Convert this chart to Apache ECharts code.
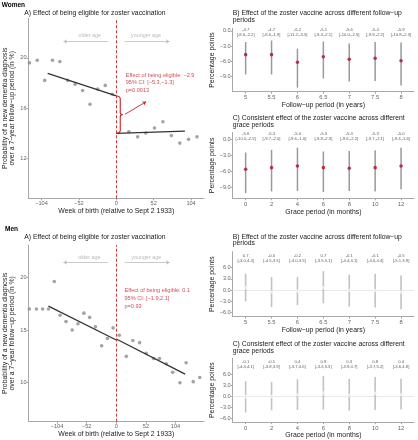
<!DOCTYPE html>
<html><head><meta charset="utf-8">
<script src="https://cdn.jsdelivr.net/npm/echarts@6/dist/echarts.min.js"></script>
<style>html,body{margin:0;padding:0;background:#fff}#c{width:418px;height:440px}</style>
</head><body><div id="c"></div>
<script>
// ---------------- data ----------------
const weeksWomen = [-120.7,-109.9,-99.5,-88.7,-78.4,-67.6,-57.2,-46.8,-36.5,-25.7,-15.3,-5.4,17.6,29.7,41.1,53.2,64.9,76.6,88.4,100.5,112.2];
const probWomen  = [19.6,19.8,18.2,19.8,19.7,18.2,17.9,17.4,16.3,17.5,17.8,17.1,14.1,13.7,14.0,14.4,14.9,13.8,13.2,13.5,13.7];
const fitWomenLeft  = [[-95.4,18.75],[0,16.96]];
const fitWomenRight = [[0,13.98],[95.5,14.16]];
const effectWomen = [-2.9,-5.3,-1.3];
const pWomen = '0.0013';

const weeksMen = [-152.6,-140.2,-129.2,-119,-108.7,-98.5,-88.2,-77.4,-67.2,-56.9,-46.7,-36.5,-25.6,-15.4,-5.6,5.2,17.7,29.1,41.0,52.5,65.6,75.8,87.8,99.1,111.7,122.6,135.1,146.5];
const probMen  = [17.0,17.0,17.0,17.0,19.6,16.4,15.8,15.0,15.6,16.6,16.2,15.3,13.5,14.2,15.2,14.5,12.5,14.0,13.8,12.8,12.3,12.3,11.8,11.0,10.0,11.9,10.1,10.5];
const fitMenLeft  = [[-119,17.27],[0,14.05]];
const fitMenRight = [[0,14.15],[120.9,10.82]];
const effectMen = [0.1,-1.9,2.1];
const pMen = '0.93';

const followUpYears = ['5','5.5','6','6.5','7','7.5','8'];
const gracePeriods  = ['0','2','4','6','8','10','12'];

const womenFollowEst = [-4.7,-4.7,-6.2,-5.1,-5.6,-5.4,-5.9];
const womenFollowLo  = [-8.6,-8.6,-11.2,-9.4,-10.0,-9.9,-10.8];
const womenFollowHi  = [-2.2,-1.9,-3.5,-2.1,-2.5,-2.2,-2.3];
const womenGraceEst  = [-5.6,-5.3,-5.0,-5.3,-5.4,-5.3,-5.0];
const womenGraceLo   = [-10.0,-9.7,-9.6,-9.8,-9.6,-9.7,-9.3];
const womenGraceHi   = [-2.5,-2.0,-1.6,-2.3,-2.2,-2.1,-1.6];

const menFollowEst = [0.7,-0.5,-0.2,0.7,-0.1,-0.1,-0.5];
const menFollowLo  = [-3.0,-4.5,-4.0,-3.5,-4.4,-4.6,-5.1];
const menFollowHi  = [4.4,3.5,3.5,5.1,4.1,4.4,3.9];
const menGraceEst  = [-0.1,-0.1,0.4,0.9,0.3,0.8,0.4];
const menGraceLo   = [-4.4,-3.8,-3.7,-3.6,-3.9,-3.7,-3.6];
const menGraceHi   = [4.1,3.9,4.6,5.5,4.7,5.2,4.8];

const weekTicks      = [-104,-52,0,52,104];
const probTicksWomen = [12,16,20];
const probTicksMen   = [10,15,20];
const ppTicksWomen   = [-9,-6,-3,0];
const ppTicksMen     = [-6,-3,0,3,6];

// ---------------- styling helpers ----------------
const FONT = 'Liberation Sans, Arial, Helvetica, sans-serif';
const AX = '#a8a8a8';
const RED = '#c8202a';
const PT_RED = '#b0102a';
const minus = v => (v < 0 ? '\u2212' : '') + Math.abs(v);
const minus1 = v => (v < 0 ? '\u2212' : '') + Math.abs(v).toFixed(1);
const hy1 = v => v.toFixed(1);

function valAxis(gi, min, max, ticks, fmt, extra) {
  return Object.assign({
    type: 'value', gridIndex: gi, min: min, max: max,
    splitLine: {show: false},
    axisLine: {show: true, onZero: false, lineStyle: {color: AX, width: 1}},
    axisTick: {show: true, length: 2, lineStyle: {color: AX}, customValues: ticks},
    axisLabel: {customValues: ticks, formatter: fmt, fontSize: 5.6, color: '#666', margin: 2, fontFamily: FONT}
  }, extra || {});
}
function catAxis(gi, cats, name) {
  return {
    type: 'category', gridIndex: gi, data: cats, boundaryGap: true,
    axisLine: {show: true, onZero: false, lineStyle: {color: AX, width: 1}},
    axisTick: {show: true, alignWithLabel: true, length: 2, lineStyle: {color: AX}},
    axisLabel: {fontSize: 5.8, color: '#666', margin: 3, fontFamily: FONT, interval: 0},
    name: name, nameLocation: 'middle', nameGap: 8,
    nameTextStyle: {fontSize: 6.9, color: '#1a1a1a', fontFamily: FONT}
  };
}
const yNameLeft = 'Probability of a new dementia diagnosis\nover a 7\u2212year follow\u2212up period (in %)';
const leftYName = {name: yNameLeft, nameLocation: 'middle', nameGap: 8,
  nameTextStyle: {fontSize: 6.9, color: '#1a1a1a', fontFamily: FONT, lineHeight: 7.7}};
const leftXName = {name: 'Week of birth (relative to Sept 2 1933)', nameLocation: 'middle', nameGap: 7,
  nameTextStyle: {fontSize: 6.9, color: '#1a1a1a', fontFamily: FONT}};
const rightYName = {name: 'Percentage points', nameLocation: 'middle', nameGap: 13,
  nameTextStyle: {fontSize: 6.9, color: '#1a1a1a', fontFamily: FONT}};

// ---------------- series builders ----------------
function leftSeries(gi, weeks, probs, fitL, fitR) {
  return [
    {type: 'scatter', xAxisIndex: gi, yAxisIndex: gi, symbol: 'circle', symbolSize: 3.6,
     itemStyle: {color: '#8c8c8c'}, data: weeks.map((w, i) => [w, probs[i]]), z: 3,
     markLine: {silent: true, symbol: 'none', label: {show: false},
       lineStyle: {color: '#d43535', type: [3, 2], width: 1}, data: [{xAxis: 0}]}},
    {type: 'line', xAxisIndex: gi, yAxisIndex: gi, showSymbol: false, data: fitL,
     lineStyle: {color: '#333', width: 1.3}, z: 4},
    {type: 'line', xAxisIndex: gi, yAxisIndex: gi, showSymbol: false, data: fitR,
     lineStyle: {color: '#333', width: 1.3}, z: 4}
  ];
}
function ageArrows(gi, olderPts, youngerPts, textY, olderX, youngerX) {
  return [
    {type: 'lines', coordinateSystem: 'cartesian2d', xAxisIndex: gi, yAxisIndex: gi, silent: true,
     symbol: ['none', 'arrow'], symbolSize: [0, 3.5], lineStyle: {color: '#bdbdbd', width: 0.8, opacity: 1},
     data: [{coords: olderPts}, {coords: youngerPts}]},
    {type: 'scatter', xAxisIndex: gi, yAxisIndex: gi, symbolSize: 0, silent: true,
     data: [{value: [olderX, textY], name: 'older age'}, {value: [youngerX, textY], name: 'younger age'}],
     label: {show: true, position: 'inside', formatter: p => p.name, fontSize: 5.4, color: '#aaaaaa', fontFamily: FONT}}
  ];
}
function effectText(gi, x, y, eff, p) {
  const txt = 'Effect of being eligible: ' + minus(eff[0]) + '\n95% CI: [' + minus(eff[1]) + ',' + minus(eff[2]) + ']\np=' + p;
  return {type: 'scatter', xAxisIndex: gi, yAxisIndex: gi, symbolSize: 0, silent: true, data: [[x, y]],
    label: {show: true, position: 'right', distance: 0, formatter: () => txt, fontSize: 5.6,
      lineHeight: 7.8, color: RED, fontFamily: FONT, align: 'left'}};
}
function forest(gi, cats, est, lo, hi, barColor, barW, ptColor, labelY, zeroLine) {
  const out = [
    {type: 'custom', xAxisIndex: gi, yAxisIndex: gi, z: 2, silent: true,
     data: cats.map((c, i) => [i, lo[i], hi[i]]),
     renderItem: (params, api) => {
       const a = api.coord([api.value(0), api.value(1)]);
       const b = api.coord([api.value(0), api.value(2)]);
       return {type: 'line', shape: {x1: a[0], y1: a[1], x2: b[0], y2: b[1]},
         style: {stroke: barColor, lineWidth: barW}};
     },
     markLine: zeroLine ? {silent: true, symbol: 'none', label: {show: false}, z: 1,
       lineStyle: {color: '#e9e9e9', type: 'solid', width: 1.2}, data: [{yAxis: 0}]} : undefined},
    {type: 'scatter', xAxisIndex: gi, yAxisIndex: gi, z: 3, symbol: 'circle', symbolSize: 3.6,
     itemStyle: {color: ptColor}, data: est.map((v, i) => [i, v])},
    {type: 'scatter', xAxisIndex: gi, yAxisIndex: gi, z: 3, symbolSize: 0, silent: true,
     data: cats.map((c, i) => [i, labelY]),
     label: {show: true, position: 'inside', fontSize: 4.2, lineHeight: 5, color: '#333', fontFamily: FONT,
       formatter: p => hy1(est[p.dataIndex]) + '\n[' + hy1(lo[p.dataIndex]) + ',' + hy1(hi[p.dataIndex]) + ']'}}
  ];
  return out;
}
function brace(gi, fitL, fitR) {
  return {type: 'custom', xAxisIndex: gi, yAxisIndex: gi, silent: true, z: 5,
    data: [[fitL[1][0], fitL[1][1], fitR[0][1]]],
    renderItem: (params, api) => {
      const t = api.coord([api.value(0), api.value(1)]);
      const b = api.coord([api.value(0), api.value(2)]);
      const x = t[0], y1 = t[1], y2 = b[1], m = (y1 + y2) / 2, w = 4;
      const d = 'M' + x + ',' + y1 + ' Q' + (x + w) + ',' + y1 + ' ' + (x + w) + ',' + (y1 + 3) +
        ' L' + (x + w) + ',' + (m - 2) + ' Q' + (x + w) + ',' + m + ' ' + (x + w + 2.5) + ',' + m +
        ' Q' + (x + w) + ',' + m + ' ' + (x + w) + ',' + (m + 2) +
        ' L' + (x + w) + ',' + (y2 - 3) + ' Q' + (x + w) + ',' + y2 + ' ' + x + ',' + y2;
      return {type: 'path', shape: {pathData: d}, style: {stroke: RED, fill: null, lineWidth: 1.1}};
    }};
}

// ---------------- option ----------------
const grids = [
  {left: 24.3, top: 18.3, width: 179.7, height: 180},
  {left: 232.7, top: 28.3, width: 181.3, height: 63.4},
  {left: 232.7, top: 132.5, width: 181.3, height: 65.8},
  {left: 24.3, top: 245, width: 179.7, height: 176.7},
  {left: 232.7, top: 251.7, width: 181.3, height: 65},
  {left: 232.7, top: 358.3, width: 181.3, height: 64.4}
];

const option = {
  animation: false,
  textStyle: {fontFamily: FONT},
  grid: grids,
  xAxis: [
    valAxis(0, -122, 122, weekTicks, minus, leftXName),
    catAxis(1, followUpYears, 'Follow\u2212up period (in years)'),
    catAxis(2, gracePeriods, 'Grace period (in months)'),
    valAxis(3, -154, 154, weekTicks, minus, leftXName),
    catAxis(4, followUpYears, 'Follow\u2212up period (in years)'),
    catAxis(5, gracePeriods, 'Grace period (in months)')
  ],
  yAxis: [
    valAxis(0, 8.8, 23.15, probTicksWomen, minus, leftYName),
    valAxis(1, -12.0, 0.5, ppTicksWomen, minus1, rightYName),
    valAxis(2, -10.96, 1.2, ppTicksWomen, minus1, rightYName),
    valAxis(3, 6.3, 23.07, probTicksMen, minus, leftYName),
    valAxis(4, -7.07, 10.27, ppTicksMen, minus1, rightYName),
    valAxis(5, -7.0, 10.3, ppTicksMen, minus1, rightYName)
  ],
  series: [].concat(
    leftSeries(0, weeksWomen, probWomen, fitWomenLeft, fitWomenRight),
    ageArrows(0, [[-11.2, 21.3], [-73.4, 21.3]], [[11.8, 21.3], [73.9, 21.3]], 21.8, -36.9, 41.5),
    [effectText(0, 13.1, 18.0, effectWomen, pWomen), brace(0, fitWomenLeft, fitWomenRight),
     {type: 'lines', coordinateSystem: 'cartesian2d', xAxisIndex: 0, yAxisIndex: 0, silent: true,
      symbol: ['none', 'arrow'], symbolSize: [0, 3.5], lineStyle: {color: RED, width: 0.9, opacity: 1},
      data: [{coords: [[12.2, 15.5], [41.5, 16.5]]}]}],
    forest(1, followUpYears, womenFollowEst, womenFollowLo, womenFollowHi, '#9a9a9a', 1.5, PT_RED, -0.25, false),
    forest(2, gracePeriods, womenGraceEst, womenGraceLo, womenGraceHi, '#9a9a9a', 1.5, PT_RED, 0.45, false),
    leftSeries(3, weeksMen, probMen, fitMenLeft, fitMenRight),
    ageArrows(3, [[-14.2, 21.42], [-92.8, 21.42]], [[14.9, 21.42], [93.5, 21.42]], 21.9, -47.2, 52.5),
    [effectText(3, 14.4, 18.0, effectMen, pMen)],
    forest(4, followUpYears, menFollowEst, menFollowLo, menFollowHi, '#c2c2c2', 1.6, '#f4f4f4', 8.4, true),
    forest(5, gracePeriods, menGraceEst, menGraceLo, menGraceHi, '#c2c2c2', 1.6, '#f4f4f4', 8.6, true)
  ),
  graphic: [
    {type: 'text', x: 1.7, y: 1.7, style: {text: 'Women', fontSize: 6.5, fontWeight: 'bold', fontFamily: FONT, fill: '#000'}},
    {type: 'text', x: 24.3, y: 9.9, style: {text: 'A) Effect of being eligible for zoster vaccination', fontSize: 6.8, fontFamily: FONT, fill: '#1a1a1a'}},
    {type: 'text', x: 232.7, y: 9.9, style: {text: 'B) Effect of the zoster vaccine across different follow\u2212up\nperiods', fontSize: 6.8, lineHeight: 6.7, fontFamily: FONT, fill: '#1a1a1a'}},
    {type: 'text', x: 232.7, y: 115, style: {text: 'C) Consistent effect of the zoster vaccine across different\ngrace periods', fontSize: 6.8, lineHeight: 6.7, fontFamily: FONT, fill: '#1a1a1a'}},
    {type: 'text', x: 5, y: 225.7, style: {text: 'Men', fontSize: 6.5, fontWeight: 'bold', fontFamily: FONT, fill: '#000'}},
    {type: 'text', x: 24.3, y: 233.3, style: {text: 'A) Effect of being eligible for zoster vaccination', fontSize: 6.8, fontFamily: FONT, fill: '#1a1a1a'}},
    {type: 'text', x: 232.7, y: 233.3, style: {text: 'B) Effect of the zoster vaccine across different follow\u2212up\nperiods', fontSize: 6.8, lineHeight: 6.7, fontFamily: FONT, fill: '#1a1a1a'}},
    {type: 'text', x: 232.7, y: 340.7, style: {text: 'C) Consistent effect of the zoster vaccine across different\ngrace periods', fontSize: 6.8, lineHeight: 6.7, fontFamily: FONT, fill: '#1a1a1a'}}
  ]
};

const chart = echarts.init(document.getElementById('c'), null, {renderer: 'canvas'});
chart.setOption(option);
</script>
</body></html>
